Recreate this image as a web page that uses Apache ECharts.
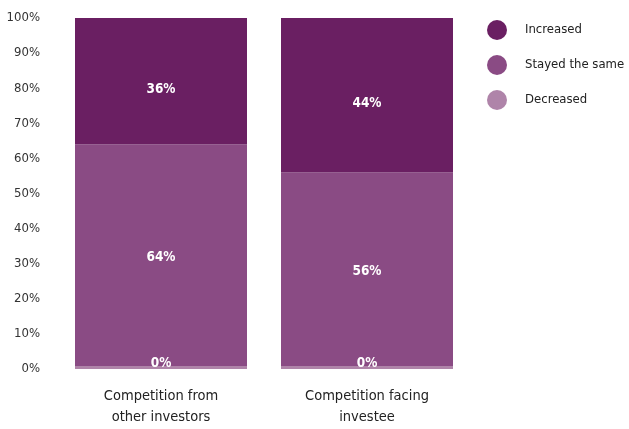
<!DOCTYPE html>
<html>
<head>
<meta charset="utf-8">
<script src="https://cdn.jsdelivr.net/npm/echarts@6/dist/echarts.min.js"></script>
<style>
html,body{margin:0;padding:0;background:#fff;}
#c{width:629px;height:429px;}
</style>
</head>
<body>
<div id="c"></div>
<script>
const categories = ['Competition from\nother investors', 'Competition facing\ninvestee'];
const decreased = [0, 0];
const stayedSame = [64, 56];
const increased = [36, 44];
const yTicks = [0, 10, 20, 30, 40, 50, 60, 70, 80, 90, 100];

// pick a narrow font if one is installed
const ctx = document.createElement('canvas').getContext('2d');
function w(font, t) { ctx.font = font; return ctx.measureText(t).width; }
const probe = 'Stayed the same 0123456789%';
const candidates = [
  ['Liberation Sans Narrow', 'normal'],
  ['DejaVu Sans Condensed', 'normal'],
  ['Roboto Condensed', 'normal'],
  ['DejaVu Sans', 'condensed'],
  ['Liberation Sans', 'normal']
];
let FAM = 'Liberation Sans', STRETCH = 'normal';
for (const [fam, st] of candidates) {
  const a = w(st + ' 100px "' + fam + '", monospace', probe);
  const b = w('100px monospace', probe);
  if (Math.abs(a - b) > 0.5) {
    if (st === 'condensed') {
      const reg = w('100px "' + fam + '", monospace', probe);
      if (a >= reg - 0.5) continue;
    }
    FAM = fam; STRETCH = st; break;
  }
}
const FONT = '"' + FAM + '", "Liberation Sans", sans-serif';
function fit(text, target, weight, maxSize) {
  const ww = w(STRETCH + ' ' + (weight || 'normal') + ' 100px ' + FONT, text);
  return Math.min(maxSize, Math.round(100 * target / ww * 2) / 2);
}
const legendSize = fit('Stayed the same', 100, 'normal', 18);
const catSize = fit('Competition from', 114, 'normal', 18);
const ySize = fit('100%', 34, 'normal', 18);
const barSize = fit('36%', 29, 'bold', 18);

const chart = echarts.init(document.getElementById('c'), null, {renderer: 'canvas'});
const lbl = {
  show: true, color: '#fff', fontFamily: FONT, fontStyle: STRETCH, fontWeight: 'bold', fontSize: barSize,
  formatter: p => p.value + '%'
};
chart.setOption({
  animation: false,
  textStyle: {fontFamily: FONT},
  grid: {left: 58, right: 159, top: 18, bottom: 60, outerBoundsMode: 'none', containLabel: false},
  legend: {
    orient: 'vertical', left: 487, top: 20, padding: 0,
    data: ['Increased', 'Stayed the same', 'Decreased'],
    icon: 'circle', itemWidth: 20, itemHeight: 20, itemGap: 15,
    textStyle: {fontFamily: FONT, fontStyle: STRETCH, fontSize: legendSize, color: '#222', padding: [0, 0, 0, 13]}
  },
  xAxis: {
    type: 'category', data: categories,
    axisLine: {show: false}, axisTick: {show: false},
    axisLabel: {fontFamily: FONT, fontStyle: STRETCH, fontSize: catSize, color: '#222', margin: 17, lineHeight: 21}
  },
  yAxis: {
    type: 'value', min: yTicks[0], max: yTicks[yTicks.length - 1], interval: 10,
    splitLine: {show: false}, axisLine: {show: false}, axisTick: {show: false},
    axisLabel: {fontFamily: FONT, fontStyle: STRETCH, fontSize: ySize, color: '#333', margin: 18, formatter: '{value}%'}
  },
  series: [
    {
      name: 'Decreased', type: 'bar', stack: 's', data: decreased, barWidth: 172,
      barMinHeight: 3, z: 3,
      itemStyle: {color: '#AF84A9'},
      label: Object.assign({}, lbl, {position: 'top', distance: -4})
    },
    {
      name: 'Stayed the same', type: 'bar', stack: 's', data: stayedSame, barWidth: 172,
      itemStyle: {color: '#8A4B84'},
      label: Object.assign({}, lbl, {position: 'inside', offset: [0, 1]})
    },
    {
      name: 'Increased', type: 'bar', stack: 's', data: increased, barWidth: 172,
      itemStyle: {color: '#6A1F62'},
      label: Object.assign({}, lbl, {position: 'inside', offset: [0, 8]})
    }
  ]
});
</script>
</body>
</html>
